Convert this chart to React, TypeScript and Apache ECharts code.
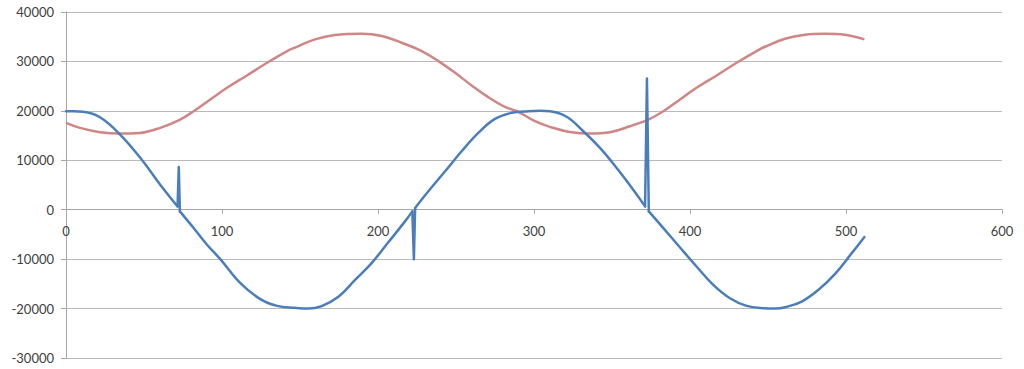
import React, { useEffect, useRef } from "react";
import * as echarts from "echarts";

// Blue series (x, y)
const blueX = [0, 5, 11, 21.8, 34.7, 48.6, 60.4, 71.5, 72.3, 73, 81.8, 90.4, 98.9, 111.8, 124.6, 135.3, 146.8, 155.3, 163.9, 174.6, 185.3, 195.9, 206.6, 217.3, 222, 223, 223.8, 232.3, 243, 253.6, 264.3, 275, 285.7, 296.4, 304, 310.2, 320.9, 331.6, 342.3, 353, 363.6, 371.2, 372.4, 373.6, 382.9, 393.6, 404.2, 414.9, 425.6, 436.3, 447, 455, 460.9, 471.6, 482.3, 493, 503.7, 511.8];
const blueY = [19900, 19900, 19800, 18700, 15200, 10100, 5070, 680, 8650, -340, -3700, -7100, -10000, -14860, -18100, -19460, -19850, -20000, -19500, -17630, -14200, -10800, -6600, -2360, -340, -10000, 340, 3720, 7770, 11820, 15540, 18380, 19600, 19930, 20000, 19930, 18800, 15880, 12500, 8440, 4050, 680, 26550, -340, -3720, -7640, -11490, -15200, -17900, -19460, -19930, -20000, -19730, -18580, -16220, -12970, -8780, -5540];
// indices of the one-sample glitches in the blue series
const blueSpikes = [8, 25, 42];

// Red series (x, y)
const redX = [0, 9, 21.8, 34.7, 47.5, 60.4, 73.2, 81.8, 92.5, 103.2, 116, 128.9, 141.8, 146.8, 159.6, 172.4, 189.5, 202.4, 215.2, 228, 238.7, 249.4, 260, 270.7, 281.4, 290, 300.6, 310.2, 323, 335.9, 348.7, 361.5, 373.3, 382.9, 393.6, 404.2, 417.1, 429.9, 442.7, 448.1, 460.9, 473.7, 486.5, 499.3, 511.8];
const redY = [17570, 16550, 15680, 15400, 15540, 16550, 18240, 19930, 22300, 24660, 27160, 29730, 32090, 32800, 34460, 35340, 35600, 35140, 33780, 32090, 30070, 27700, 25140, 22770, 20810, 19800, 17900, 16760, 15740, 15400, 15680, 16890, 18240, 19930, 22300, 24660, 27160, 29730, 32090, 32970, 34590, 35400, 35600, 35400, 34460];

const xMin = 0;
const xMax = 600;
const xStep = 100;
const yMin = -30000;
const yMax = 40000;
const yStep = 10000;

const BLUE = "#4A7EBB";
const RED = "#CF8684";

function bluePieces() {
  const pts = blueX.map((x, i) => [x, blueY[i]]);
  const pieces: { data: number[][]; smooth: boolean }[] = [];
  let start = 0;
  blueSpikes.forEach((s) => {
    pieces.push({ data: pts.slice(start, s), smooth: true });
    pieces.push({ data: pts.slice(s - 1, s + 2), smooth: false });
    start = s + 1;
  });
  pieces.push({ data: pts.slice(start), smooth: true });
  return pieces;
}

export default function App() {
  const ref = useRef<HTMLDivElement>(null);
  useEffect(() => {
    document.body.style.margin = "0";
    if (!ref.current) return;
    const chart = echarts.init(ref.current, undefined, { renderer: "svg" });
    const font = "Lato, 'Open Sans', sans-serif";
    const axisColor = "#A6A6A6";
    const blueSeries = bluePieces().map((p) => ({
      type: "line",
      data: p.data,
      smooth: p.smooth ? 0.4 : false,
      showSymbol: false,
      lineStyle: { color: BLUE, width: 2.5, cap: "round", join: "round" },
      itemStyle: { color: BLUE },
      z: 3,
    }));
    chart.setOption({
      animation: false,
      backgroundColor: "#ffffff",
      grid: {
        left: 66,
        right: 22,
        top: 12,
        bottom: 11,
        containLabel: false,
        outerBoundsMode: "none",
      },
      xAxis: {
        type: "value",
        min: xMin,
        max: xMax,
        interval: xStep,
        position: "bottom",
        offset: -((0 - yMin) / (yMax - yMin)) * 346,
        axisLine: { show: true, onZero: false, lineStyle: { color: axisColor, width: 1 } },
        axisTick: { show: true, length: 4, lineStyle: { color: axisColor } },
        axisLabel: { color: "#404040", fontFamily: font, fontSize: 13, margin: 15 },
        splitLine: { show: false },
      },
      yAxis: {
        type: "value",
        min: yMin,
        max: yMax,
        interval: yStep,
        axisLine: { show: true, onZero: false, lineStyle: { color: axisColor, width: 1 } },
        axisTick: { show: true, length: 5, lineStyle: { color: axisColor } },
        axisLabel: {
          color: "#404040",
          fontFamily: font,
          fontSize: 13,
          margin: 12,
          formatter: (v: number) => String(v),
        },
        splitLine: { show: true, lineStyle: { color: "#BABABA", width: 1 } },
      },
      series: [
        {
          type: "line",
          data: redX.map((x, i) => [x, redY[i]]),
          smooth: 0.4,
          showSymbol: false,
          lineStyle: { color: RED, width: 2.5 },
          itemStyle: { color: RED },
          z: 2,
        },
        ...blueSeries,
      ],
    });
    return () => chart.dispose();
  }, []);
  return (
    <div
      ref={ref}
      style={{ position: "fixed", left: 0, top: 0, width: 1024, height: 369 }}
    />
  );
}
